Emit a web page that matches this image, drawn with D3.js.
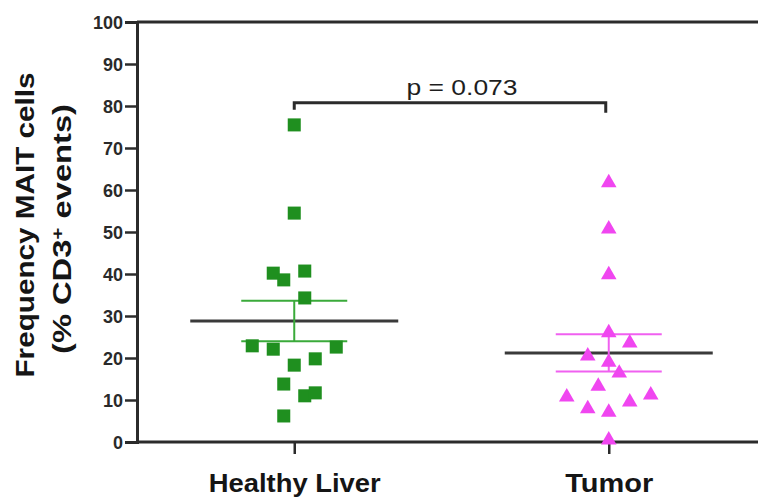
<!DOCTYPE html>
<html>
<head>
<meta charset="utf-8">
<script src="https://cdn.jsdelivr.net/npm/d3@7"></script>
<style>
  html, body { margin: 0; padding: 0; background: #fff; }
  svg { display: block; }
  text { font-family: "Liberation Sans", Arial, Helvetica, sans-serif; }
</style>
</head>
<body>
<svg id="chart" width="758" height="501"></svg>
<script>
// Groups on the x axis
const categories = ["Healthy Liver", "Tumor"];

// Frequency of MAIT cells (% of CD3+ events), one value per sample
const healthyValues = [75.5, 54.5, 40.2, 38.6, 40.7, 34.3, 22.9, 22.1, 22.6, 18.3, 19.8, 13.8, 11.0, 11.7, 6.2];
const tumorValues   = [61.7, 50.7, 39.8, 26.0, 23.6, 20.5, 19.0, 16.4, 13.3, 10.7, 11.2, 7.9, 9.5, 7.1, 0.5];

// Horizontal scatter slot of each point (0 = column centre)
const healthySlots = [0, 0, -2, -1, 1, 1, -4, -2, 4, 0, 2, -1, 1, 2, -1];
const tumorSlots   = [0, 0, 0, 0, 2, -2, 0, 1, -1, -4, 4, -2, 2, 0, 0];

// Y axis ticks
const yTicks = [0, 10, 20, 30, 40, 50, 60, 70, 80, 90, 100];

// Significance annotation
const pLabel = "p = 0.073";
const bracketValue = 80.8;

const svg = d3.select("#chart");

const x = d3.scalePoint().domain(categories).range([137, 766]).padding(0.5);
const y = d3.scaleLinear().domain([0, 100]).range([442, 22]);
const slotWidth = 10.5;

const axisColor = "#2b2b2b";
const groups = [
  { name: categories[0], values: healthyValues, slots: healthySlots, color: "#1f8f1f", err: "#3aaa3a", shape: d3.symbolSquare, size: 170 },
  { name: categories[1], values: tumorValues, slots: tumorSlots, color: "#f046f0", err: "#f060f0", shape: d3.symbolTriangle, size: 105 }
];

// Frame: top line and bottom axis line run to the right edge
svg.append("line").attr("x1", 137).attr("x2", 758).attr("y1", y(100)).attr("y2", y(100))
  .attr("stroke", axisColor).attr("stroke-width", 3);

// Y axis
const yAxis = d3.axisLeft(y).tickValues(yTicks).tickSize(12).tickPadding(2).tickFormat(d3.format("d"));
const gy = svg.append("g").attr("transform", "translate(137,0)").call(yAxis);
gy.select(".domain").attr("stroke", axisColor).attr("stroke-width", 3);
gy.selectAll(".tick line").attr("stroke", axisColor).attr("stroke-width", 2.5);
gy.selectAll(".tick text")
  .attr("fill", "#2a2a2a")
  .style("font-size", "18px").style("font-weight", "bold")
  .attr("dy", "0.36em");

// X axis
const xAxis = d3.axisBottom(x).tickSize(12).tickPadding(20);
const gx = svg.append("g").attr("transform", `translate(0,${y(0)})`).call(xAxis);
gx.select(".domain").remove();
svg.append("line").attr("x1", 137).attr("x2", 758).attr("y1", y(0)).attr("y2", y(0))
  .attr("stroke", axisColor).attr("stroke-width", 3);
gx.selectAll(".tick line").attr("stroke", axisColor).attr("stroke-width", 2.5);
gx.selectAll(".tick text")
  .attr("fill", "#151515")
  .style("font-size", "25px").style("font-weight", "bold")
  .attr("dy", "0.71em")
  .attr("textLength", d => d === categories[0] ? 172 : 88)
  .attr("lengthAdjust", "spacingAndGlyphs");

// Y axis title (two lines)
const titleY = 225;
svg.append("text")
  .attr("transform", `translate(34,${titleY}) rotate(-90)`)
  .attr("text-anchor", "middle")
  .style("font-size", "25px").style("font-weight", "bold").attr("fill", "#151515")
  .attr("textLength", 305).attr("lengthAdjust", "spacingAndGlyphs")
  .text("Frequency MAIT cells");
const t2 = svg.append("text")
  .attr("transform", `translate(71,${titleY + 4}) rotate(-90)`)
  .attr("text-anchor", "middle")
  .style("font-size", "25px").style("font-weight", "bold").attr("fill", "#151515")
  .attr("textLength", 250).attr("lengthAdjust", "spacingAndGlyphs");
t2.append("tspan").text("(% CD3");
t2.append("tspan").attr("baseline-shift", "super").style("font-size", "16px").text("+");
t2.append("tspan").text(" events)");

// Points, mean and SEM per group
groups.forEach(g => {
  const cx = x(g.name);
  const n = g.values.length;
  const mean = d3.mean(g.values);
  const sem = d3.deviation(g.values) / Math.sqrt(n);

  // mean line
  svg.append("line")
    .attr("x1", cx - 104).attr("x2", cx + 104)
    .attr("y1", y(mean)).attr("y2", y(mean))
    .attr("stroke", "#3a3a3a").attr("stroke-width", 3);

  // SEM bars
  svg.append("line")
    .attr("x1", cx).attr("x2", cx)
    .attr("y1", y(mean + sem)).attr("y2", y(mean - sem))
    .attr("stroke", g.err).attr("stroke-width", 2);
  [mean + sem, mean - sem].forEach(v => {
    svg.append("line")
      .attr("x1", cx - 53).attr("x2", cx + 53)
      .attr("y1", y(v)).attr("y2", y(v))
      .attr("stroke", g.err).attr("stroke-width", 2);
  });

  // data points
  svg.append("g").selectAll("path")
    .data(g.values)
    .join("path")
    .attr("d", d3.symbol().type(g.shape).size(g.size))
    .attr("transform", (d, i) => `translate(${cx + g.slots[i] * slotWidth},${y(d)})`)
    .attr("fill", g.color);
});

// Significance bracket
const bx1 = x(categories[0]), bx2 = x(categories[1]) - 3;
const by = y(bracketValue);
svg.append("path")
  .attr("d", `M${bx1},${by + 7}V${by}H${bx2}V${by + 10}`)
  .attr("fill", "none").attr("stroke", axisColor).attr("stroke-width", 3);
svg.append("text")
  .attr("x", (bx1 + bx2) / 2 + 12).attr("y", by - 8)
  .attr("text-anchor", "middle")
  .style("font-size", "22px").attr("fill", "#1e1e1e")
  .attr("textLength", 111).attr("lengthAdjust", "spacingAndGlyphs")
  .text(pLabel);
</script>
</body>
</html>
